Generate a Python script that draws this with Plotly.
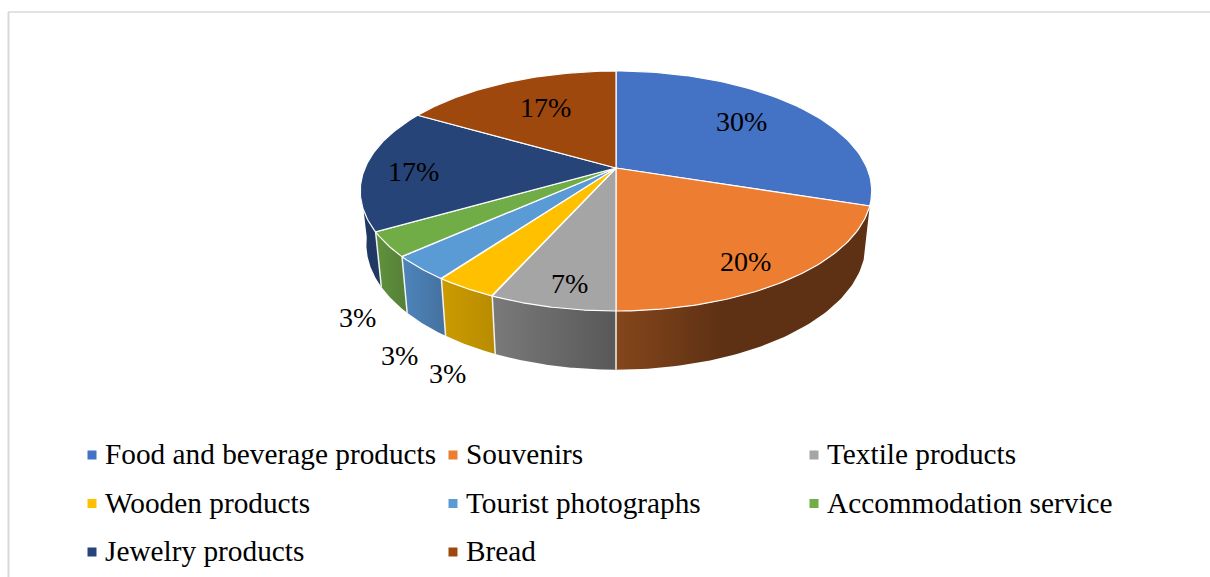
import numpy as np
import plotly.graph_objects as go

categories = ["Food and beverage products", "Souvenirs", "Textile products",
              "Wooden products", "Tourist photographs", "Accommodation service",
              "Jewelry products", "Bread"]
# respondent counts (out of 30)
values = [9, 6, 2, 1, 1, 1, 5, 5]
top_colors = ["#4472C4", "#ED7D31", "#A5A5A5", "#FFC000", "#5B9BD5", "#70AD47", "#264478", "#9E480E"]

# side wall shading per slice: (colour at left, colour at right)
side_shades = {
    1: [[0, "#85461B"], [0.42, "#5E3114"], [1, "#5E3114"]],
    2: [[0, "#7A7A7A"], [1, "#585858"]],
    3: [[0, "#CC9B00"], [1, "#B88C00"]],
    4: [[0, "#4E85BC"], [1, "#44719F"]],
    5: [[0, "#5F933C"], [1, "#557F37"]],
    6: [[0, "#1F3864"], [1, "#1F3864"]],
}

# label anchors in the picture's pixel space
label_pos = [(741, 121), (745, 261), (569, 283), (447, 373), (399, 355), (357, 317), (413, 171), (545, 107)]
legend_cols = [92, 453, 814]
legend_rows = [455, 503.5, 552]
LABEL_SIZE = 28
LEGEND_SIZE = 29.3
FONT = "Liberation Serif"
INK = "#000000"

# perspective disc model
CX, CY, A, B, K = 616, 168, 251, 115.6, 0.1916
CY2, A2, B2 = 220, 245, 121
SIDE_MIN, SIDE_MAX = 108.0, 262.0


def rim(deg, cy, a, b):
    t = np.radians(deg)
    u, v = np.sin(t), np.cos(t)
    w = 1 + K * v
    return CX + a * u / w, cy - b * v / w


total = sum(values)
edges = np.concatenate([[0], np.cumsum(values)]) / total * 360.0
fig = go.Figure()

# side walls
dividers_x, dividers_y = [], []
for i in side_shades:
    lo, hi = max(edges[i], SIDE_MIN), min(edges[i + 1], SIDE_MAX)
    th = np.linspace(lo, hi, 60)
    xt, yt = rim(th, CY, A, B)
    xb, yb = rim(th, CY2, A2, B2)
    fig.add_trace(go.Scatter(
        x=np.concatenate([xt, xb[::-1]]), y=np.concatenate([yt, yb[::-1]]),
        mode="lines", fill="toself", line=dict(width=0),
        fillgradient=dict(type="horizontal", colorscale=side_shades[i]),
        hoverinfo="skip", showlegend=False))
for e in edges[2:7]:
    xt, yt = rim(e, CY, A, B)
    xb, yb = rim(e, CY2, A2, B2)
    dividers_x += [xt, xb, None]
    dividers_y += [yt, yb, None]
fig.add_trace(go.Scatter(x=dividers_x, y=dividers_y, mode="lines",
                         line=dict(color="#F2F2F2", width=1.5),
                         hoverinfo="skip", showlegend=False))

# top faces
for i, c in enumerate(categories):
    th = np.linspace(edges[i], edges[i + 1], 80)
    x, y = rim(th, CY, A, B)
    fig.add_trace(go.Scatter(
        x=np.concatenate([[CX], x, [CX]]), y=np.concatenate([[CY], y, [CY]]),
        mode="lines", fill="toself", fillcolor=top_colors[i],
        line=dict(color="#FFFFFF", width=1.2),
        name=c, hovertemplate=f"{c}: {round(100 * values[i] / total)}%<extra></extra>",
        showlegend=False))

# legend: markers and text
annotations = []
for i, c in enumerate(categories):
    lx, ly = legend_cols[i % 3], legend_rows[i // 3]
    fig.add_trace(go.Scatter(x=[lx], y=[ly], mode="markers",
                             marker=dict(symbol="square", size=9, color=top_colors[i], line=dict(width=0)),
                             hoverinfo="skip", showlegend=False))
    annotations.append(dict(x=lx + 11, y=ly - 0.7, text=c, showarrow=False, xanchor="left", yanchor="middle",
                            font=dict(family=FONT, size=LEGEND_SIZE, color=INK)))
    px, py = label_pos[i]
    annotations.append(dict(x=px, y=py, text=f"{round(100 * values[i] / total)}%", showarrow=False,
                            xanchor="center", yanchor="middle",
                            font=dict(family=FONT, size=LABEL_SIZE, color=INK)))

fig.update_layout(
    width=1210, height=577, margin=dict(l=0, r=0, t=0, b=0),
    paper_bgcolor="white", plot_bgcolor="white", showlegend=False,
    xaxis=dict(range=[0, 1210], visible=False, fixedrange=True),
    yaxis=dict(range=[577, 0], visible=False, fixedrange=True),
    annotations=annotations,
    shapes=[
        dict(type="line", x0=8.5, x1=8.5, y0=12, y1=577, line=dict(color="#D9D9D9", width=2)),
        dict(type="line", x0=8, x1=1210, y0=12, y1=12, line=dict(color="#D9D9D9", width=1.5)),
    ],
)
fig.write_html("out.html", post_script="document.body.style.margin='0';document.documentElement.style.overflow='hidden';",
               config={"displayModeBar": False})
